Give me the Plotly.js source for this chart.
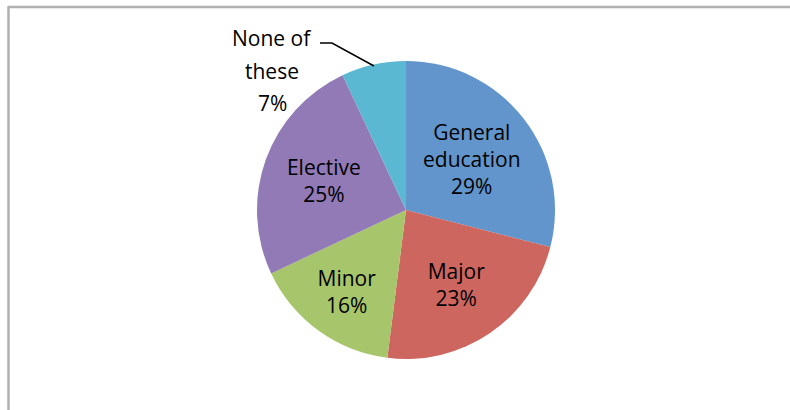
<!DOCTYPE html>
<html>
<head>
<meta charset="utf-8">
<script src="https://cdn.plot.ly/plotly-3.0.1.min.js"></script>
<style>html,body{margin:0;padding:0;background:#fff;}#chart{width:790px;height:410px;}</style>
</head>
<body>
<div id="chart"></div>
<script>
var categories = ["General<br>education", "Major", "Minor", "Elective", "None of these"];
var values = [29, 23, 16, 25, 7];
var colors = ["#6195CB", "#CE6660", "#A7C56A", "#917AB5", "#5BB8D2"];
var outsideLines = ["None of", "these"];

var W = 790, H = 410;
function px(x) { return x / W; }
function py(y) { return 1 - y / H; }

var templates = categories.map(function (c, i) {
  return i === categories.length - 1 ? "" : "%{label}<br>%{percent:.0%}";
});

var FONT = "Open Sans, Liberation Sans, sans-serif";
var cx = 406, cy = 210, r = 149;
var trace = {
  type: "pie",
  labels: categories,
  values: values,
  sort: false,
  direction: "clockwise",
  rotation: 0,
  marker: { colors: colors, line: { width: 0 } },
  texttemplate: templates,
  textposition: "inside",
  insidetextorientation: "horizontal",
  textfont: { family: FONT, size: 21, color: "#000" },
  hoverinfo: "none",
  showlegend: false,
  domain: { x: [px(cx - r), px(cx + r)], y: [py(cy + r), py(cy - r)] }
};

var lastIdx = values.length - 1;
var total = values.reduce(function (a, b) { return a + b; }, 0);
var outsideText = outsideLines.concat([Math.round(values[lastIdx] / total * 100) + "%"]);
var lineYs = [38, 71, 103];

var annotations = outsideText.map(function (t, i) {
  return { xref: "paper", yref: "paper", x: px(272), y: py(lineYs[i]), xanchor: "center", yanchor: "middle",
    showarrow: false, text: t, font: { family: FONT, size: 21, color: "#000" } };
});

var layout = {
  width: W, height: H,
  margin: { l: 0, r: 0, t: 0, b: 0 },
  paper_bgcolor: "#fff",
  showlegend: false,
  shapes: [
    { type: "line", xref: "paper", yref: "paper", x0: px(8.5), x1: px(8.5), y0: py(7), y1: py(415),
      line: { color: "#B0B0B0", width: 2.5 } },
    { type: "line", xref: "paper", yref: "paper", x0: px(7.5), x1: px(800), y0: py(7), y1: py(7),
      line: { color: "#B0B0B0", width: 2.5 } },
    { type: "path", xref: "paper", yref: "paper",
      path: "M " + px(320) + "," + py(43) + " L " + px(332) + "," + py(43) + " L " + px(374) + "," + py(66),
      line: { color: "#000", width: 1.5 } }
  ],
  annotations: annotations
};

Plotly.newPlot("chart", [trace], layout, { displayModeBar: false, staticPlot: true });
</script>
</body>
</html>
